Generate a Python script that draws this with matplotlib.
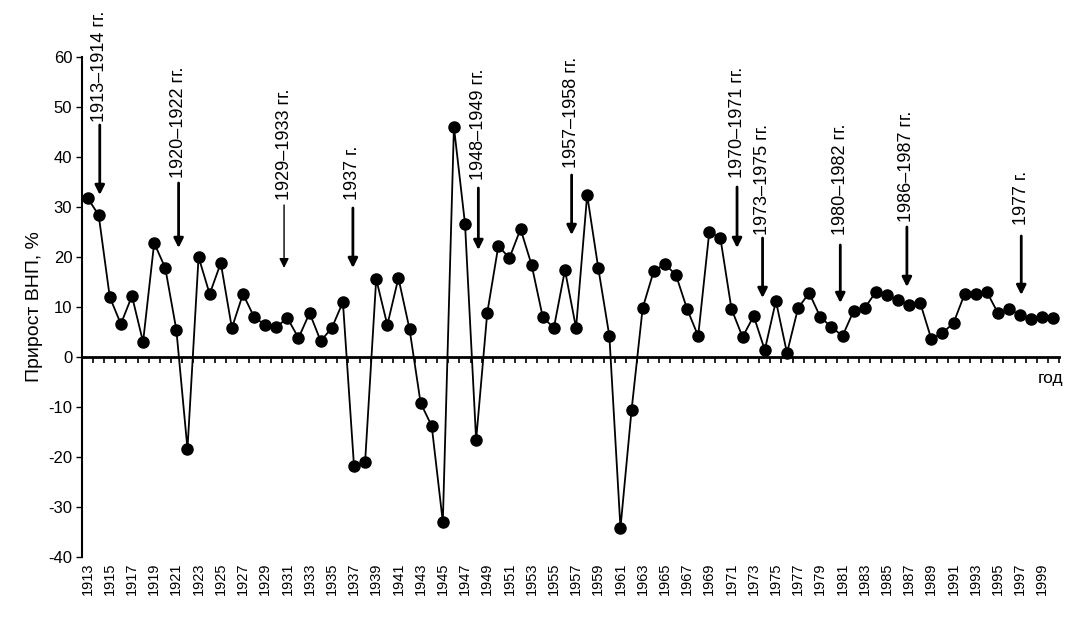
import matplotlib
matplotlib.use("Agg")
import matplotlib.pyplot as plt
import numpy as np

plt.rcParams['font.family'] = ['Liberation Sans', 'DejaVu Sans']
plt.rcParams['axes.unicode_minus'] = False

years = list(range(1913, 2001))
growth = [31.8, 28.4, 12.0, 6.6, 12.2, 3.0, 22.8, 17.8, 5.4, -18.4,
          20.0, 12.6, 18.8, 5.8, 12.6, 8.0, 6.4, 6.0, 7.8, 3.8,
          8.8, 3.2, 5.8, 11.0, -21.8, -21.0, 15.6, 6.4, 15.8, 5.6,
          -9.2, -13.8, -33.0, 46.0, 26.6, -16.6, 8.8, 22.2, 19.8, 25.6,
          18.4, 8.0, 5.8, 17.4, 5.8, 32.4, 17.8, 4.2, -34.2, -10.6,
          9.8, 17.2, 18.6, 16.4, 9.6, 4.2, 25.0, 23.8, 9.6, 4.0,
          8.2, 1.4, 11.2, 0.8, 9.8, 12.8, 8.0, 6.0, 4.2, 9.2,
          9.8, 13.0, 12.4, 11.4, 10.4, 10.8, 3.6, 4.8, 6.8, 12.6,
          12.6, 13.0, 8.8, 9.6, 8.4, 7.6, 8.0, 7.8]

tick_years = list(range(1913, 2000, 2))
y_ticks = list(range(-40, 61, 10))

crisis_labels = ["1913–1914 гг.", "1920–1922 гг.", "1929–1933 гг.", "1937 г.",
                 "1948–1949 гг.", "1957–1958 гг.", "1970–1971 гг.", "1973–1975 гг.",
                 "1980–1982 гг.", "1986–1987 гг.", "1977 г."]
crisis_x = [1914.1, 1921.2, 1930.7, 1936.9, 1948.2, 1956.6, 1971.5, 1973.8,
            1980.8, 1986.8, 1997.1]
# (text bottom, arrow tail, arrow head) in data units
arrow_y = [(47.0, 46.4, 32.4), (35.8, 34.8, 21.8), (31.4, 30.4, 17.8),
           (31.4, 29.8, 17.8), (35.4, 33.8, 21.4), (37.8, 36.4, 24.4),
           (35.8, 34.0, 21.8), (24.4, 23.8, 11.8), (24.4, 22.4, 10.8),
           (27.0, 26.0, 14.0), (26.4, 24.2, 12.4)]
arrow_lw = [2.0, 2.0, 1.0, 2.0, 2.0, 2.0, 2.0, 2.0, 2.0, 2.0, 2.0]

fig = plt.figure(figsize=(10.9, 6.17), dpi=100)
ax = fig.add_axes([82/1090, 60/617, 977/1090, 500/617])

ax.plot(years, growth, color='black', lw=1.3, marker='o', markersize=8,
        markerfacecolor='black', markeredgecolor='black', zorder=3)

ax.set_xlim(1912.5, 2000.5)
ax.set_ylim(-40, 60)
ax.set_yticks(y_ticks)
ax.tick_params(axis='y', direction='out', length=4, width=1, labelsize=12, pad=3)

for s in ['top', 'right', 'bottom']:
    ax.spines[s].set_visible(False)
ax.spines['left'].set_linewidth(1.5)

ax.set_xticks(tick_years)
ax.set_xticklabels([str(y) for y in tick_years], rotation=90, fontsize=10.5)
ax.tick_params(axis='x', length=0, pad=4)

# x axis line at zero
sec = ax.secondary_xaxis(0.4)
sec.set_xticks(np.arange(1912.5, 2001, 1.0))
sec.set_xticklabels([])
sec.tick_params(axis='x', direction='out', length=4, width=1.2)
sec.spines['bottom'].set_linewidth(2.0)

ax.set_ylabel("Прирост ВНП, %", fontsize=14, labelpad=4)
ax.text(0.991, 0.358, "год", transform=ax.transAxes, fontsize=12.5,
        ha='center', va='center')

for lab, x, (tb, tail, head), lw in zip(crisis_labels, crisis_x, arrow_y, arrow_lw):
    ax.text(x, tb, lab, rotation=90, ha='center', va='bottom', fontsize=13,
            clip_on=False)
    ax.annotate('', xy=(x, head), xytext=(x, tail),
                arrowprops=dict(arrowstyle='-|>', color='black', lw=lw,
                                mutation_scale=14, shrinkA=0, shrinkB=0),
                annotation_clip=False)

fig.savefig("out.png", dpi=100)
